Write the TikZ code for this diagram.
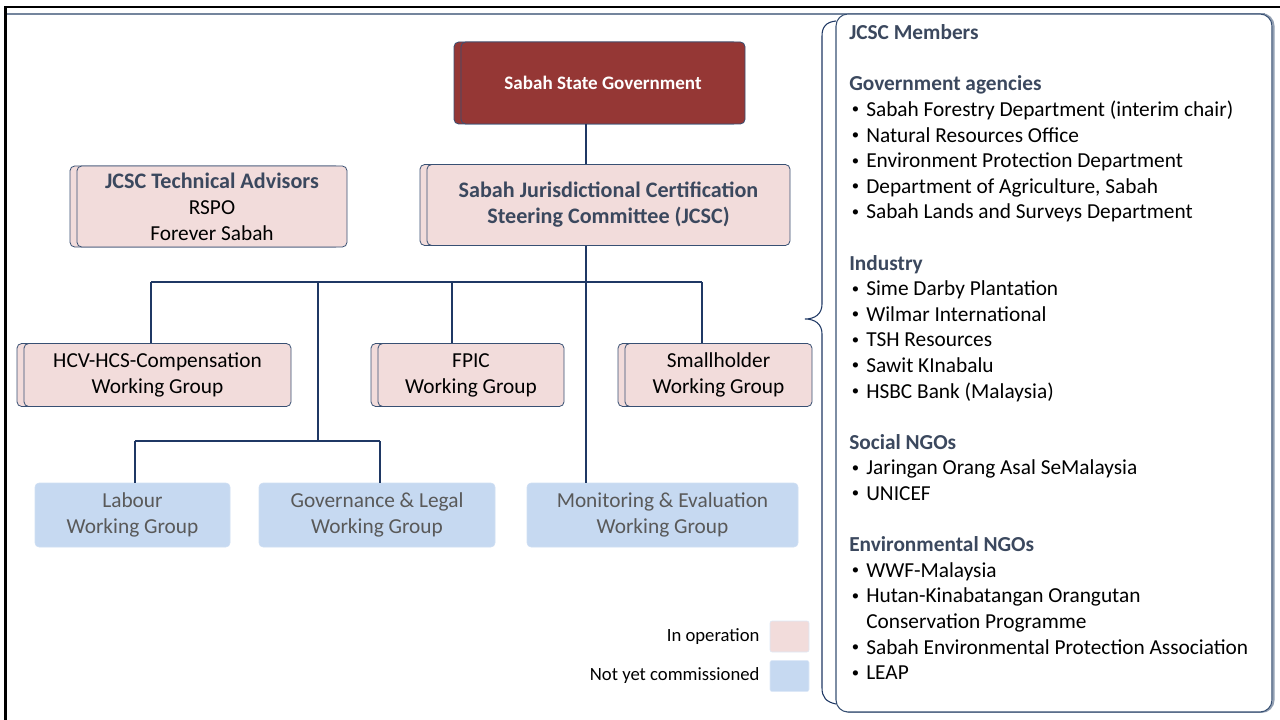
\documentclass[tikz,border=0pt]{standalone}
\usepackage{fontspec}
\setmainfont{Carlito}
\usetikzlibrary{shadows}

\definecolor{govred}{RGB}{149,55,53}
\definecolor{opfill}{RGB}{242,220,219}
\definecolor{nyfill}{RGB}{198,217,241}
\definecolor{boxline}{RGB}{56,80,115}
\definecolor{linknavy}{RGB}{31,56,100}
\definecolor{headslate}{RGB}{59,72,94}
\definecolor{greytext}{RGB}{89,89,89}

\newcommand{\memhead}[1]{\textbf{\color{headslate}#1}}
\newcommand{\memitem}{\hspace*{2pt}\makebox[10.75pt][l]{\raisebox{0.25ex}{\fontsize{11}{11}\selectfont\textbullet}}}
\newcommand{\unithead}[1]{{\fontsize{16.6}{19.5}\selectfont\bfseries\color{headslate}#1}}

\tikzset{
  unitbox/.style={draw=boxline, line width=0.6pt, rounded corners=3.5pt, inner sep=0pt, align=center,
    copy shadow={shadow xshift=-5.25pt, shadow yshift=0pt}},
  govbox/.style={unitbox, fill=govred, text=white, font=\fontsize{14.3}{17}\selectfont\bfseries},
  opbox/.style={unitbox, fill=opfill, font=\fontsize{16}{19.5}\selectfont},
  nybox/.style={fill=nyfill, draw=nyfill!85!white, rounded corners=3pt, inner sep=0pt, align=center,
    text=greytext, font=\fontsize{16}{19.5}\selectfont},
  link/.style={draw=linknavy, line width=0.8pt},
  keybox/.style={minimum width=29.25pt, minimum height=23.25pt, inner sep=0pt, rounded corners=1.5pt},
  keytext/.style={anchor=east, font=\fontsize{14}{16}\selectfont, inner sep=0pt}
}

\begin{document}
\begin{tikzpicture}[x=0.75pt,y=0.75pt,yscale=-1,xscale=1]
\useasboundingbox (0,0) rectangle (1280,720);

% frame
\draw [line width=2.2pt, line cap=rect] (5.5,720) -- (5.5,7) -- (1280,7);
\draw [boxline!70, line width=0.9pt] (7,14) -- (1265,14);

% brace round the member list
\draw [linknavy, line width=0.8pt] (836,21) .. controls (826,22) and (822,27) .. (822,36) -- (822,304)
  .. controls (822,314) and (815,319) .. (805,319) .. controls (815,319) and (822,324) .. (822,334)
  -- (822,688) .. controls (822,697) and (826,702) .. (836,704);

% member list
\node [draw=boxline, fill=white, line width=0.8pt, rounded corners=9pt, minimum width=327pt, minimum height=523.5pt,
  copy shadow={shadow xshift=1.2pt, shadow yshift=0pt, draw=boxline!55, line width=1.4pt}] (members) at (1054,363) {};
\node [anchor=north west, inner sep=0pt, align=left, font=\fontsize{16}{19.2}\selectfont] (memberlist) at (849,24.5) {%
  \memhead{JCSC Members}\\
  \mbox{}\\
  \memhead{Government agencies}\\
  \memitem Sabah Forestry Department (interim chair)\\
  \memitem Natural Resources Office\\
  \memitem Environment Protection Department\\
  \memitem Department of Agriculture, Sabah\\
  \memitem Sabah Lands and Surveys Department\\
  \mbox{}\\
  \memhead{Industry}\\
  \memitem Sime Darby Plantation\\
  \memitem Wilmar International\\
  \memitem TSH Resources\\
  \memitem Sawit KInabalu\\
  \memitem HSBC Bank (Malaysia)\\
  \mbox{}\\
  \memhead{Social NGOs}\\
  \memitem Jaringan Orang Asal SeMalaysia\\
  \memitem UNICEF\\
  \mbox{}\\
  \memhead{Environmental NGOs}\\
  \memitem WWF-Malaysia\\
  \memitem Hutan-Kinabatangan Orangutan\\
  \hspace*{12.75pt}Conservation Programme\\
  \memitem Sabah Environmental Protection Association\\
  \memitem LEAP};

% units in operation
\node [govbox, minimum width=213pt, minimum height=61.5pt] (gov) at (603,83) {Sabah State Government};
\node [opbox, minimum width=202.5pt, minimum height=60.75pt] (advisors) at (212,206.5)
  {\unithead{JCSC Technical Advisors}\\RSPO\\Forever Sabah};
\node [opbox, minimum width=272.25pt, minimum height=60.75pt] (jcsc) at (608.5,205)
  {\unithead{Sabah Jurisdictional Certification}\\\unithead{Steering Committee (JCSC)}};
\node [opbox, minimum width=200.25pt, minimum height=47.25pt] (hcv) at (157.5,375) {HCV-HCS-Compensation\\Working Group};
\node [opbox, minimum width=139.5pt, minimum height=47.25pt] (fpic) at (471,375) {FPIC\\Working Group};
\node [opbox, minimum width=140.25pt, minimum height=47.25pt] (small) at (718.5,375) {Smallholder\\Working Group};

% units not yet commissioned
\node [nybox, minimum width=146.25pt, minimum height=48pt] (labour) at (132.5,515) {Labour\\Working Group};
\node [nybox, minimum width=177pt, minimum height=48pt] (legal) at (377,515) {Governance \& Legal\\Working Group};
\node [nybox, minimum width=203.25pt, minimum height=48pt] (monitor) at (662.5,515) {Monitoring \& Evaluation\\Working Group};

% connectors
\coordinate (trunk) at (586,282);
\coordinate (hcvtap) at (151,282);
\coordinate (subtrunk) at (318,282);
\coordinate (fpictap) at (452,282);
\coordinate (smalltap) at (702,282);
\coordinate (labourtap) at (135,441);
\coordinate (legaltap) at (380,441);
\draw [link] (gov.south -| trunk) -- (jcsc.north -| trunk);
\draw [link] (jcsc.south -| trunk) -- (monitor.north -| trunk);
\draw [link] (hcvtap) -- (smalltap);
\draw [link] (hcvtap) -- (hcvtap |- hcv.north);
\draw [link] (fpictap) -- (fpictap |- fpic.north);
\draw [link] (smalltap) -- (smalltap |- small.north);
\draw [link] (subtrunk) -- (subtrunk |- labourtap);
\draw [link] (labourtap) -- (legaltap);
\draw [link] (labourtap) -- (labourtap |- labour.north);
\draw [link] (legaltap) -- (legaltap |- legal.north);

% legend
\node [keybox, fill=opfill, draw=nyfill!60!white] (opkey) at (789.5,636.5) {};
\node [keybox, fill=nyfill, draw=nyfill!60!white] (nykey) at (789.5,676) {};
\node [keytext] (optext) at ([xshift=-7.5pt]opkey.west) {In operation};
\node [keytext] (nytext) at ([xshift=-7.5pt]nykey.west) {Not yet commissioned};

\end{tikzpicture}
\end{document}
